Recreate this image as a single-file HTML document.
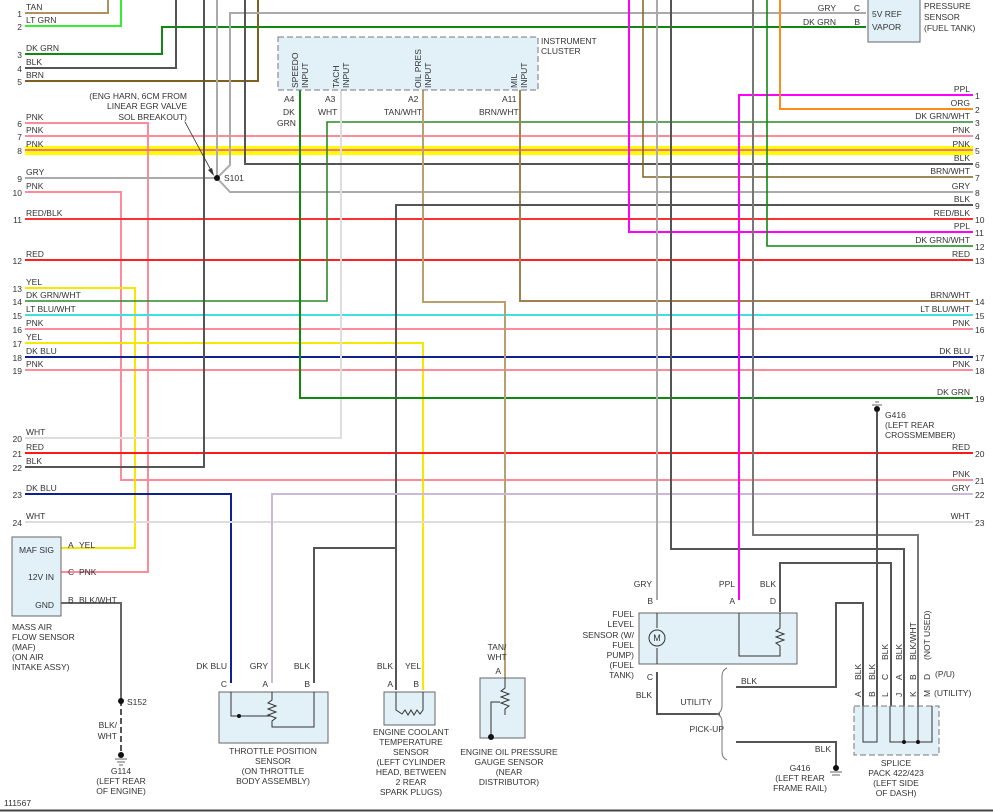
<!DOCTYPE html>
<html><head><meta charset="utf-8"><style>
html,body{margin:0;padding:0;background:#fff;}
svg{display:block;}
text{font-family:"Liberation Sans",sans-serif;font-size:8.5px;fill:#333;}
.r{text-anchor:end}.m{text-anchor:middle}
</style></head><body>
<svg width="993" height="812" viewBox="0 0 993 812" xmlns="http://www.w3.org/2000/svg">
<rect width="993" height="812" fill="#fff"/>
<!-- yellow highlight -->
<rect x="25" y="146" width="948" height="9" fill="#ffff00"/>
<g fill="none" stroke-width="2" stroke-linejoin="miter">
<!-- left side wires -->
<path d="M25 13H108V0" stroke="#b09060"/>
<path d="M25 26H121V0" stroke="#33ee33"/>
<path d="M25 54H162V27H866" stroke="#118811"/>
<path d="M25 68H176V0" stroke="#555"/>
<path d="M25 81H258V0" stroke="#806020"/>
<path d="M25 123H148V572H61" stroke="#ff8a9a"/>
<path d="M25 136H973" stroke="#ff8a9a"/>
<path d="M25 150H973" stroke="#ff7080"/>
<path d="M25 178H217" stroke="#aaa"/>
<path d="M217 0V178" stroke="#aaa"/>
<path d="M866 13H230V165L217 178L230 192H973" stroke="#aaa"/>
<path d="M25 192H121V480H973" stroke="#ff8a9a"/>
<path d="M25 219H973" stroke="#ff3030"/>
<path d="M25 260H973" stroke="#ff2020"/>
<path d="M25 288H135V548H61" stroke="#f5e800"/>
<path d="M25 301H327V122H973" stroke="#2a8a2a" stroke-width="1.6"/>
<path d="M25 315H973" stroke="#40e0e0"/>
<path d="M25 329H973" stroke="#ff8a9a"/>
<path d="M25 343H423V690" stroke="#f5e800"/>
<path d="M25 357H973" stroke="#102090"/>
<path d="M25 370H973" stroke="#ff8a9a"/>
<path d="M25 438H341V90" stroke="#ddd"/>
<path d="M25 453H973" stroke="#ff1a1a"/>
<path d="M25 467H204V0" stroke="#555"/>
<path d="M25 494H231V683" stroke="#102090"/>
<path d="M25 522H973" stroke="#ddd"/>
<path d="M245 0V164H973" stroke="#555"/>
<path d="M300 90V398H973" stroke="#118811"/>
<path d="M423 90V302H505V678" stroke="#b8a070"/>
<path d="M520 90V301H973" stroke="#a08050"/>
<path d="M973 205H396V690" stroke="#555"/>
<path d="M396 548H314V683" stroke="#555"/>
<path d="M973 494H272V683" stroke="#ccb8d8"/>
<!-- right side verticals -->
<path d="M629 0V232H973" stroke="#ff00ff"/>
<path d="M643 0V177H973" stroke="#806020" stroke-width="1.5"/>
<path d="M657 0V600" stroke="#aaa"/>
<path d="M671 0V549H904V706" stroke="#555"/>
<path d="M973 95H739V600" stroke="#ff00ff"/>
<path d="M753 0V535H918V706" stroke="#777"/>
<path d="M767 0V246H973" stroke="#118811" stroke-width="1.6"/>
<path d="M780 0V109H973" stroke="#ff8c1a"/>
<path d="M780 612V563H891V706" stroke="#555"/>
<path d="M877 412V706" stroke="#555"/>
<path d="M657 672V714H720" stroke="#555"/>
<path d="M736 687H836V603H863V706" stroke="#555"/>
<path d="M736 742H836V766" stroke="#555"/>
<path d="M61 603H121V700" stroke="#666"/>
<path d="M121 700V752" stroke="#555" stroke-dasharray="6,3"/>
</g>
<!-- brace -->
<path d="M727 668 Q722 670 722 676 V706 Q722 712 717 714 Q722 716 722 722 V752 Q722 758 727 760" fill="none" stroke="#777" stroke-width="1"/>
<!-- pressure sensor -->
<rect x="868" y="-2" width="52" height="44" fill="#e2f1f8" stroke="#666"/>
<text x="872" y="17">5V REF</text><text x="872" y="30">VAPOR</text>
<text x="924" y="9">PRESSURE</text><text x="924" y="20">SENSOR</text><text x="924" y="31">(FUEL TANK)</text>
<text x="836" y="11" class="r">GRY</text><text x="836" y="25" class="r">DK GRN</text>
<text x="860" y="11" class="r">C</text><text x="860" y="25" class="r">B</text>
<!-- instrument cluster -->
<rect x="278" y="37" width="260" height="53" fill="#e2f1f8" stroke="#777" stroke-dasharray="6,3"/>
<text x="541" y="44">INSTRUMENT</text><text x="541" y="54">CLUSTER</text>
<g>
<text transform="translate(298,88) rotate(-90)">SPEEDO</text><text transform="translate(308,88) rotate(-90)">INPUT</text>
<text transform="translate(339,88) rotate(-90)">TACH</text><text transform="translate(349,88) rotate(-90)">INPUT</text>
<text transform="translate(421,88) rotate(-90)">OIL PRES</text><text transform="translate(431,88) rotate(-90)">INPUT</text>
<text transform="translate(517,88) rotate(-90)">MIL</text><text transform="translate(527,88) rotate(-90)">INPUT</text>
</g>
<text x="284" y="102">A4</text><text x="283" y="115">DK</text><text x="277" y="126">GRN</text>
<text x="325" y="102">A3</text><text x="318" y="115">WHT</text>
<text x="408" y="102">A2</text><text x="384" y="115">TAN/WHT</text>
<text x="502" y="102">A11</text><text x="479" y="115">BRN/WHT</text>
<!-- S101 -->
<text x="187" y="99" class="r">(ENG HARN, 6CM FROM</text>
<text x="187" y="109" class="r">LINEAR EGR VALVE</text>
<text x="187" y="120" class="r">SOL BREAKOUT)</text>
<path d="M185 122L213 174" stroke="#333" stroke-width="0.8"/>
<path d="M214 176L208 170L212 168Z" fill="#333"/>
<circle cx="217" cy="178" r="3" fill="#111"/><text x="224" y="181">S101</text>
<!-- left labels -->
<g>
<text x="26" y="10">TAN</text><text x="26" y="23">LT GRN</text><text x="26" y="51">DK GRN</text><text x="26" y="65">BLK</text><text x="26" y="78">BRN</text>
<text x="26" y="120">PNK</text><text x="26" y="133">PNK</text><text x="26" y="147">PNK</text><text x="26" y="175">GRY</text><text x="26" y="189">PNK</text>
<text x="26" y="216">RED/BLK</text><text x="26" y="257">RED</text><text x="26" y="285">YEL</text><text x="26" y="298">DK GRN/WHT</text><text x="26" y="312">LT BLU/WHT</text>
<text x="26" y="326">PNK</text><text x="26" y="340">YEL</text><text x="26" y="354">DK BLU</text><text x="26" y="367">PNK</text><text x="26" y="435">WHT</text>
<text x="26" y="450">RED</text><text x="26" y="464">BLK</text><text x="26" y="491">DK BLU</text><text x="26" y="519">WHT</text>
</g>
<g class="r">
<text x="22" y="17" class="r">1</text><text x="22" y="30" class="r">2</text><text x="22" y="58" class="r">3</text><text x="22" y="72" class="r">4</text><text x="22" y="85" class="r">5</text>
<text x="22" y="127" class="r">6</text><text x="22" y="140" class="r">7</text><text x="22" y="154" class="r">8</text><text x="22" y="182" class="r">9</text><text x="22" y="196" class="r">10</text>
<text x="22" y="223" class="r">11</text><text x="22" y="264" class="r">12</text><text x="22" y="292" class="r">13</text><text x="22" y="305" class="r">14</text><text x="22" y="319" class="r">15</text>
<text x="22" y="333" class="r">16</text><text x="22" y="347" class="r">17</text><text x="22" y="361" class="r">18</text><text x="22" y="374" class="r">19</text><text x="22" y="442" class="r">20</text>
<text x="22" y="457" class="r">21</text><text x="22" y="471" class="r">22</text><text x="22" y="498" class="r">23</text><text x="22" y="526" class="r">24</text>
</g>
<!-- right labels -->
<g>
<text x="970" y="92" class="r">PPL</text><text x="970" y="106" class="r">ORG</text><text x="970" y="119" class="r">DK GRN/WHT</text><text x="970" y="133" class="r">PNK</text><text x="970" y="147" class="r">PNK</text>
<text x="970" y="161" class="r">BLK</text><text x="970" y="174" class="r">BRN/WHT</text><text x="970" y="189" class="r">GRY</text><text x="970" y="202" class="r">BLK</text><text x="970" y="216" class="r">RED/BLK</text>
<text x="970" y="229" class="r">PPL</text><text x="970" y="243" class="r">DK GRN/WHT</text><text x="970" y="257" class="r">RED</text><text x="970" y="298" class="r">BRN/WHT</text><text x="970" y="312" class="r">LT BLU/WHT</text>
<text x="970" y="326" class="r">PNK</text><text x="970" y="354" class="r">DK BLU</text><text x="970" y="367" class="r">PNK</text><text x="970" y="395" class="r">DK GRN</text><text x="970" y="450" class="r">RED</text>
<text x="970" y="477" class="r">PNK</text><text x="970" y="491" class="r">GRY</text><text x="970" y="519" class="r">WHT</text>
<text x="975" y="99">1</text><text x="975" y="113">2</text><text x="975" y="126">3</text><text x="975" y="140">4</text><text x="975" y="154">5</text>
<text x="975" y="168">6</text><text x="975" y="181">7</text><text x="975" y="196">8</text><text x="975" y="209">9</text><text x="975" y="223">10</text>
<text x="975" y="236">11</text><text x="975" y="250">12</text><text x="975" y="264">13</text><text x="975" y="305">14</text><text x="975" y="319">15</text>
<text x="975" y="333">16</text><text x="975" y="361">17</text><text x="975" y="374">18</text><text x="975" y="402">19</text><text x="975" y="457">20</text>
<text x="975" y="484">21</text><text x="975" y="498">22</text><text x="975" y="526">23</text>
</g>
<!-- G416 crossmember -->
<circle cx="877" cy="409" r="3" fill="#111"/><path d="M872 405H882M875 402H879" stroke="#333" stroke-width="0.8"/>
<text x="885" y="418">G416</text><text x="885" y="428">(LEFT REAR</text><text x="885" y="438">CROSSMEMBER)</text>
<!-- MAF -->
<rect x="12" y="537" width="49" height="79" fill="#e2f1f8" stroke="#666"/>
<text x="54" y="553" class="r">MAF SIG</text><text x="54" y="580" class="r">12V IN</text><text x="54" y="608" class="r">GND</text>
<text x="68" y="548">A</text><text x="79" y="548">YEL</text>
<text x="68" y="575">C</text><text x="79" y="575">PNK</text>
<text x="68" y="603">B</text><text x="79" y="603">BLK/WHT</text>
<text x="12" y="630">MASS AIR</text><text x="12" y="640">FLOW SENSOR</text><text x="12" y="650">(MAF)</text><text x="12" y="660">(ON AIR</text><text x="12" y="670">INTAKE ASSY)</text>
<circle cx="121" cy="701" r="3" fill="#111"/><text x="127" y="705">S152</text>
<text x="117" y="728" class="r">BLK/</text><text x="117" y="739" class="r">WHT</text>
<circle cx="121" cy="755" r="3" fill="#111"/><path d="M115 759H127M117 762H125M119 765H123" stroke="#333" stroke-width="0.8"/>
<text x="121" y="774" class="m">G114</text><text x="121" y="784" class="m">(LEFT REAR</text><text x="121" y="794" class="m">OF ENGINE)</text>
<text x="4" y="806">111567</text>
<!-- TPS -->
<rect x="219" y="692" width="109" height="51" fill="#e2f1f8" stroke="#666"/>
<path d="M231 692V716H270M272 692V700L268 703L276 706L268 709L276 712L268 715L276 718L272 721V727H314V692" fill="none" stroke="#333" stroke-width="1"/>
<circle cx="239" cy="716" r="2" fill="#111"/>
<text x="227" y="669" class="r">DK BLU</text><text x="268" y="669" class="r">GRY</text><text x="310" y="669" class="r">BLK</text>
<text x="227" y="687" class="r">C</text><text x="268" y="687" class="r">A</text><text x="310" y="687" class="r">B</text>
<text x="273" y="754" class="m">THROTTLE POSITION</text><text x="273" y="764" class="m">SENSOR</text><text x="273" y="774" class="m">(ON THROTTLE</text><text x="273" y="784" class="m">BODY ASSEMBLY)</text>
<!-- ECT -->
<rect x="384" y="692" width="51" height="33" fill="#e2f1f8" stroke="#666"/>
<path d="M396 692V710L402 714L405 710L408 715L411 710L414 715L417 710L420 714L423 710V692" fill="none" stroke="#333" stroke-width="1"/>
<text x="393" y="669" class="r">BLK</text><text x="405" y="669">YEL</text>
<text x="393" y="687" class="r">A</text><text x="419" y="687" class="r">B</text>
<text x="411" y="735" class="m">ENGINE COOLANT</text><text x="411" y="745" class="m">TEMPERATURE</text><text x="411" y="755" class="m">SENSOR</text><text x="411" y="765" class="m">(LEFT CYLINDER</text><text x="411" y="775" class="m">HEAD, BETWEEN</text><text x="411" y="785" class="m">2 REAR</text><text x="411" y="795" class="m">SPARK PLUGS)</text>
<!-- Oil -->
<rect x="480" y="678" width="45" height="60" fill="#e2f1f8" stroke="#666"/>
<path d="M505 678V688L501 691L509 694L501 697L509 700L501 703L509 706L505 709V715M500 702H491V737" fill="none" stroke="#333" stroke-width="1"/>
<circle cx="491" cy="737" r="3" fill="#111"/>
<text x="497" y="650" class="m">TAN/</text><text x="497" y="660" class="m">WHT</text><text x="501" y="674" class="r">A</text>
<text x="509" y="755" class="m">ENGINE OIL PRESSURE</text><text x="509" y="765" class="m">GAUGE SENSOR</text><text x="509" y="775" class="m">(NEAR</text><text x="509" y="785" class="m">DISTRIBUTOR)</text>
<!-- Fuel level -->
<rect x="639" y="613" width="158" height="51" fill="#e2f1f8" stroke="#666"/>
<path d="M657 613V628M657 648V664M739 613V656H780V646L776 643L784 640L776 637L784 634L776 631L780 628V613" fill="none" stroke="#333" stroke-width="1"/>
<circle cx="657" cy="638" r="8" fill="#e2f1f8" stroke="#333"/><text x="657" y="641" class="m" style="font-size:9px">M</text>
<text x="652" y="587" class="r">GRY</text><text x="735" y="587" class="r">PPL</text><text x="776" y="587" class="r">BLK</text>
<text x="653" y="604" class="r">B</text><text x="735" y="604" class="r">A</text><text x="776" y="604" class="r">D</text>
<text x="634" y="617" class="r">FUEL</text><text x="634" y="627" class="r">LEVEL</text><text x="634" y="638" class="r">SENSOR (W/</text><text x="634" y="648" class="r">FUEL</text><text x="634" y="658" class="r">PUMP)</text><text x="634" y="668" class="r">(FUEL</text><text x="634" y="678" class="r">TANK)</text>
<text x="653" y="680" class="r">C</text><text x="652" y="698" class="r">BLK</text>
<text x="741" y="684">BLK</text><text x="712" y="705" class="r">UTILITY</text><text x="724" y="732" class="r">PICK-UP</text>
<text x="831" y="752" class="r">BLK</text>
<circle cx="836" cy="768" r="3" fill="#111"/><path d="M830 772H842M832 775H840" stroke="#333" stroke-width="0.8"/>
<text x="800" y="771" class="m">G416</text><text x="800" y="781" class="m">(LEFT REAR</text><text x="800" y="791" class="m">FRAME RAIL)</text>
<!-- Splice -->
<rect x="854" y="706" width="85" height="49" fill="#e2f1f8" stroke="#777" stroke-dasharray="6,3"/>
<path d="M863 706V742H877V706M890 706V742H932V706M904 706V742M918 706V742" fill="none" stroke="#333" stroke-width="1"/>
<circle cx="904" cy="742" r="2" fill="#111"/><circle cx="918" cy="742" r="2" fill="#111"/>
<g>
<text transform="translate(861,697) rotate(-90)">A</text><text transform="translate(861,680) rotate(-90)">BLK</text>
<text transform="translate(875,697) rotate(-90)">B</text><text transform="translate(875,680) rotate(-90)">BLK</text>
<text transform="translate(888,697) rotate(-90)">L</text><text transform="translate(888,680) rotate(-90)">C</text><text transform="translate(888,660) rotate(-90)">BLK</text>
<text transform="translate(902,697) rotate(-90)">J</text><text transform="translate(902,680) rotate(-90)">A</text><text transform="translate(902,660) rotate(-90)">BLK</text>
<text transform="translate(916,697) rotate(-90)">K</text><text transform="translate(916,680) rotate(-90)">B</text><text transform="translate(916,660) rotate(-90)">BLK/WHT</text>
<text transform="translate(930,697) rotate(-90)">M</text><text transform="translate(930,680) rotate(-90)">D</text><text transform="translate(930,660) rotate(-90)">(NOT USED)</text>
</g>
<text x="935" y="677">(P/U)</text><text x="934" y="696">(UTILITY)</text>
<text x="896" y="766" class="m">SPLICE</text><text x="896" y="776" class="m">PACK 422/423</text><text x="896" y="786" class="m">(LEFT SIDE</text><text x="896" y="796" class="m">OF DASH)</text>
<path d="M0 810.5H993" stroke="#444" stroke-width="2"/>
</svg>
</body></html>
